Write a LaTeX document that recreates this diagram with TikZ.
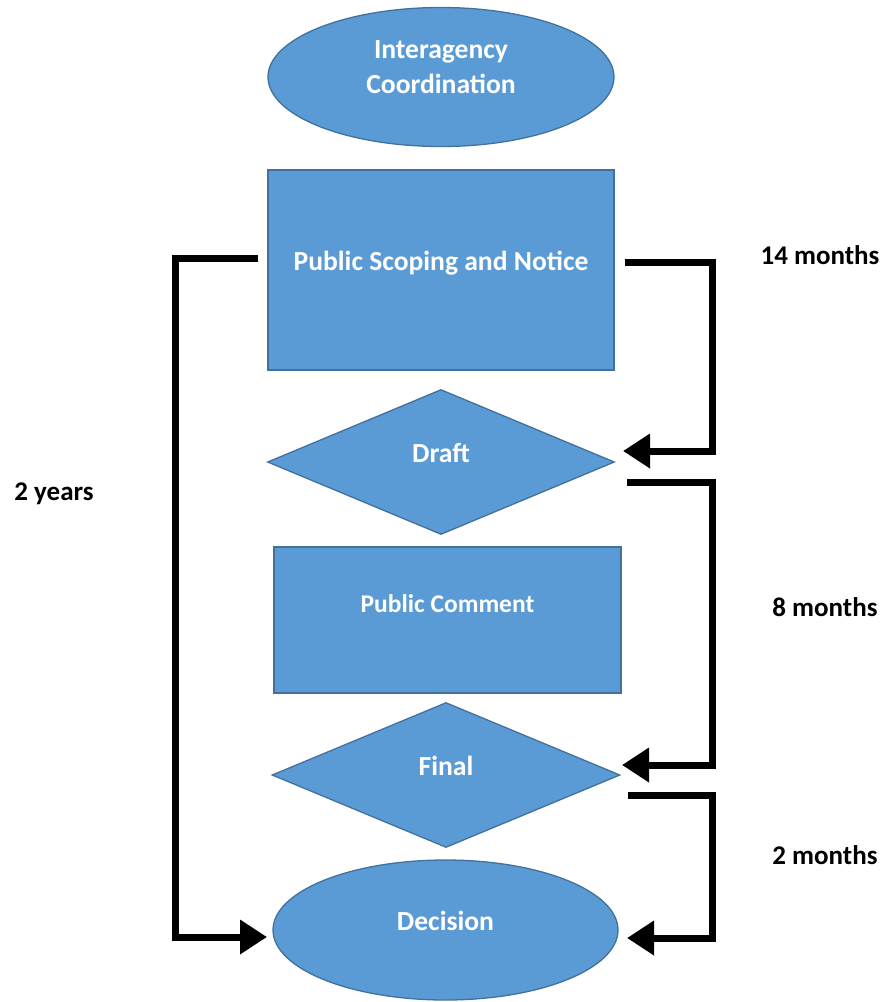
\documentclass[tikz,border=0pt]{standalone}
\usepackage{fontspec}
\setmainfont{Carlito}
\usetikzlibrary{shapes.geometric,arrows.meta}
\definecolor{boxfill}{HTML}{5B9BD5}
\definecolor{boxline}{HTML}{41719C}
\tikzset{
  shapebase/.style={fill=boxfill, draw=boxline, line width=1.3pt, inner sep=0pt,
    text=white, font=\fontsize{27.6}{35}\selectfont\bfseries,
    text height=0pt, text depth=0pt},
  ovalbox/.style={shapebase, ellipse},
  rectbox/.style={shapebase, rectangle},
  diabox/.style={shapebase, diamond},
  conn/.style={line width=7pt, line join=miter, -{Triangle[length=27pt,width=33pt]}},
  timelbl/.style={font=\fontsize{27}{36}\selectfont\bfseries, text=black, anchor=base, inner sep=0pt}
}
\begin{document}
\begin{tikzpicture}[x=1pt,y=-1pt]
\useasboundingbox (0,0) rectangle (886,1002);

% nodes
\node[ovalbox, minimum width=346pt, minimum height=139pt] (ic) at (441,77)
  {\raisebox{-16pt}[0pt][0pt]{\begin{tabular}[b]{@{}c@{}}Interagency\\Coordination\end{tabular}}};
\node[rectbox, minimum width=346pt, minimum height=200pt] (psn) at (441,270) {Public Scoping and Notice};
\node[diabox, minimum width=347pt, minimum height=145pt] (draft) at (441,462) {Draft};
\node[rectbox, minimum width=347pt, minimum height=146pt] (pc) at (447.5,620)
  {\fontsize{25.5}{30}\selectfont\raisebox{8pt}{Public Comment}};
\node[diabox, minimum width=348pt, minimum height=145pt] (final) at (446,775) {Final};
\node[ovalbox, minimum width=345pt, minimum height=140pt] (dec) at (445.5,930) {Decision};

% connector end points
\coordinate (lS) at (258,258);
\coordinate (lR) at (175,258);
\coordinate (lE) at (267,937);
\coordinate (aS) at (625,262);
\coordinate (aR) at (712,262);
\coordinate (aE) at (623,451);
\coordinate (bS) at (627,482);
\coordinate (bR) at (712,482);
\coordinate (bE) at (622,765);
\coordinate (cS) at (628,795);
\coordinate (cR) at (712,795);
\coordinate (cE) at (627,938);

% connectors
\draw[conn] (lS) -- (lR) |- (lE);
\draw[conn] (aS) -- (aR) |- (aE);
\draw[conn] (bS) -- (bR) |- (bE);
\draw[conn] (cS) -- (cR) |- (cE);

% labels
\node[timelbl] (t14) at (820,264) {14 months};
\node[timelbl] (t8) at (825,616) {8 months};
\node[timelbl] (t2) at (825,864) {2 months};
\node[timelbl] (ty) at (54,500) {2 years};
\end{tikzpicture}
\end{document}
